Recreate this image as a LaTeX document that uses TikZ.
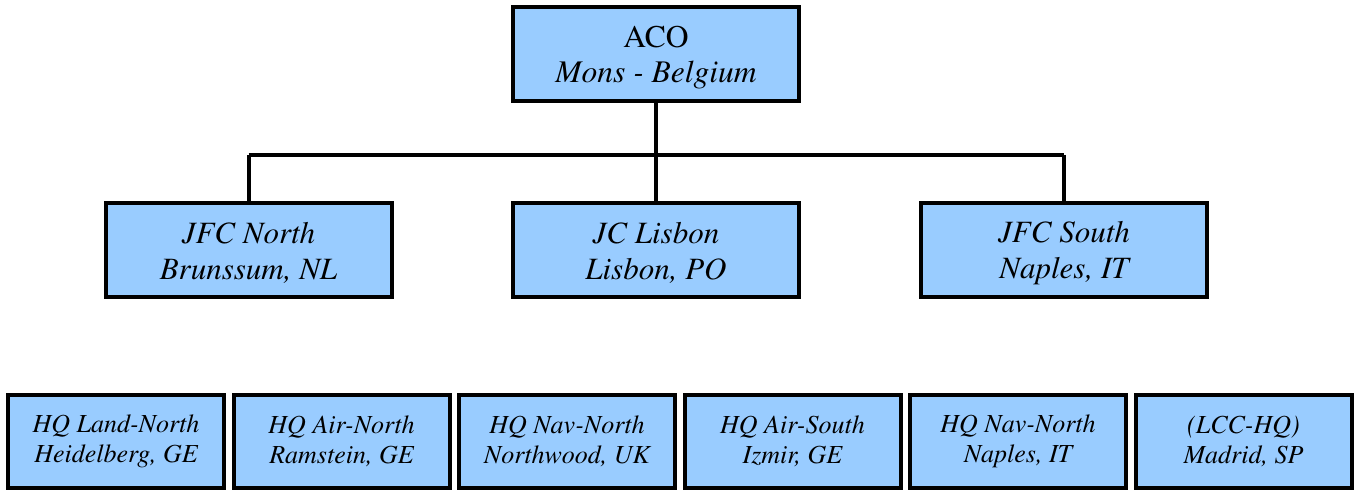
\documentclass[tikz,border=0pt]{standalone}
\usepackage[T1]{fontenc}
\usepackage{times}
\definecolor{boxblue}{HTML}{99CCFF}
\newcommand{\liftline}{\rule{0pt}{28pt}}
\begin{document}
\begin{tikzpicture}[x=1pt,y=-1pt,
  orgbox/.style={draw=black,line width=4pt,fill=boxblue,rectangle,align=center,inner sep=0pt},
  topbox/.style={orgbox,minimum width=286pt,minimum height=94pt,font=\fontsize{31.5}{35}\selectfont},
  midbox/.style={orgbox,minimum width=286pt,minimum height=94pt,font=\fontsize{31}{36}\selectfont\itshape},
  lowbox/.style={orgbox,minimum width=216pt,minimum height=93pt,font=\fontsize{26}{30}\selectfont\itshape},
  link/.style={line width=4pt}]
\useasboundingbox (0,0) rectangle (1358,492);
\node[topbox] (aco) at (656,54) {\liftline ACO\\\textit{Mons - Belgium}};
\node[midbox] (north) at (248.5,250) {\liftline JFC North\\Brunssum, NL};
\node[midbox] (lisbon) at (656,250) {\liftline JC Lisbon\\Lisbon, PO};
\node[midbox] (south) at (1064,250) {\liftline JFC South\\Naples, IT};
\node[lowbox] (land) at (116,441.5) {HQ Land-North\\Heidelberg, GE};
\node[lowbox] (airn) at (341.5,441.5) {HQ Air-North\\Ramstein, GE};
\node[lowbox] (navn) at (567,441.5) {HQ Nav-North\\Northwood, UK};
\node[lowbox] (airs) at (792.5,441.5) {HQ Air-South\\Izmir, GE};
\node[lowbox] (navs) at (1018,441.5) {HQ Nav-North\\Naples, IT};
\node[lowbox] (lcc) at (1243.5,441.5) {(LCC-HQ)\\Madrid, SP};
\coordinate (bus) at (656,155);
\coordinate (busl) at (248.5,155);
\coordinate (busr) at (1064,155);
\draw[link] (aco.south) -- (bus);
\draw[link] (busl) -- (busr);
\draw[link] (busl) -- (north.north);
\draw[link] (bus) -- (lisbon.north);
\draw[link] (busr) -- (south.north);
\end{tikzpicture}
\end{document}
